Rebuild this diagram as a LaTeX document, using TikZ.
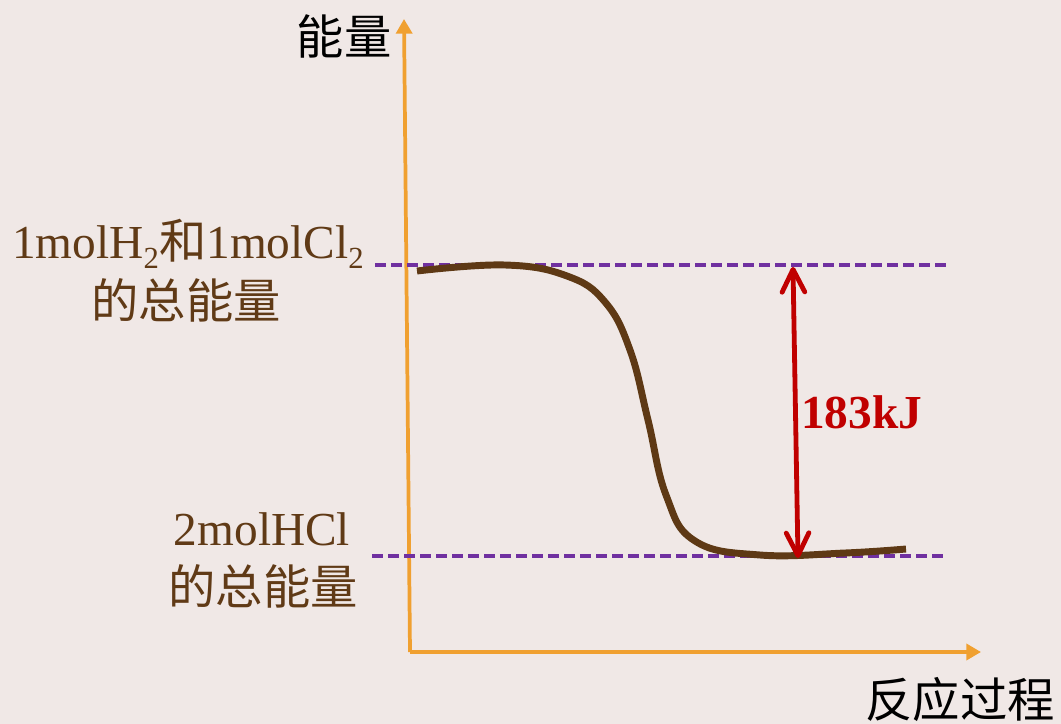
\documentclass[tikz,border=0pt]{standalone}
\usepackage{fontspec}
\setmainfont{Liberation Serif}
\newfontfamily\cjk{Noto Sans CJK SC}
\usetikzlibrary{arrows.meta}
\definecolor{bgc}{HTML}{F0E8E6}
\definecolor{axisc}{HTML}{F0A030}
\definecolor{brownc}{HTML}{603A16}
\definecolor{curvec}{HTML}{5E3915}
\definecolor{purplec}{HTML}{7030A0}
\definecolor{redc}{HTML}{C00000}
\newcommand\lowsub[1]{\raisebox{-0.22em}{\fontsize{23}{23}\selectfont #1}}
\begin{document}
\begin{tikzpicture}[x=0.75pt,y=-0.75pt,
  axisline/.style={draw=axisc,line width=2.8pt,-{Triangle[length=11pt,width=12pt]}},
  levelline/.style={draw=purplec,line width=2.8pt,dash pattern=on 8pt off 4pt},
  curveline/.style={draw=curvec,line width=5.2pt,line cap=butt},
  gapline/.style={draw=redc,line width=3.6pt,{Straight Barb[length=17pt,width=17pt,line cap=round,line join=round]}-{Straight Barb[length=17pt,width=17pt,line cap=round,line join=round]}},
  cjklabel/.style={font=\cjk\fontsize{35.5}{40}\selectfont,inner sep=0pt},
  serlabel/.style={font=\fontsize{35.5}{40}\selectfont,inner sep=0pt,text=brownc,anchor=base}]
\fill[bgc] (0,0) rectangle (1061,724);
\useasboundingbox (0,0) rectangle (1061,724);
% axes
\coordinate (O) at (410,652);
\coordinate (ytop) at (404,19);
\coordinate (xend) at (981,652);
\draw[axisline] (O) -- (ytop);
\draw[axisline] (O) -- (xend);
\node[cjklabel] (ylab) at (344,36) {能量};
\node[cjklabel] (xlab) at (960,699) {反应过程};
% level lines
\coordinate (u1) at (375,265);
\coordinate (u2) at (946,265);
\coordinate (l1) at (372,556);
\coordinate (l2) at (944,556);
\draw[levelline] (u1) -- (u2);
\draw[levelline] (l1) -- (l2);
% curve
\draw[curveline] plot[smooth,tension=0.7] coordinates {(417,271) (505,265) (567,276) (605,302) (630,350) (648,420) (666,495) (695,541) (760,555) (845,553) (906,549)};
% energy gap
\coordinate (a1) at (793,267);
\coordinate (a2) at (798,558);
\draw[gapline] (a1) -- (a2);
\node[inner sep=0pt,anchor=base west,text=redc,font=\bfseries\fontsize{35.5}{40}\selectfont] (gap) at (801,428) {183kJ};
% labels
\node[serlabel] (react) at (188,258) {1molH\lowsub{2}{\cjk 和}1molCl\lowsub{2}};
\node[cjklabel,text=brownc] (react2) at (186,300) {的总能量};
\node[serlabel] (prod) at (262,545) {2molHCl};
\node[cjklabel,text=brownc] (prod2) at (263,586) {的总能量};
\end{tikzpicture}
\end{document}
